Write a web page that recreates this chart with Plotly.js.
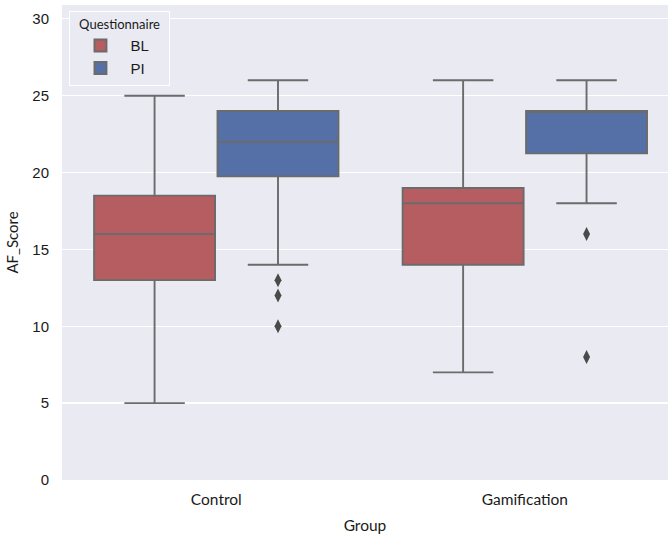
<!DOCTYPE html>
<html><head><meta charset="utf-8">
<script src="https://cdn.plot.ly/plotly-3.0.1.min.js"></script>
<style>html,body{margin:0;padding:0;background:#fff}</style>
</head><body>
<div id="chart" style="width:668px;height:538px"></div>
<script>
const categories = ["Control", "Gamification"];
const hues = ["BL", "PI"];
const blQ1 = [13, 14];
const blMedian = [16, 18];
const blQ3 = [18.5, 19];
const blLower = [5, 7];
const blUpper = [25, 26];
const blOutliers = [[], []];
const piQ1 = [19.75, 21.25];
const piMedian = [22, 24];
const piQ3 = [24, 24];
const piLower = [14, 18];
const piUpper = [26, 26];
const piOutliers = [[13, 12, 10], [16, 8]];
const yTicks = [0, 5, 10, 15, 20, 25, 30];

const colors = {BL: "#b55d60", PI: "#5470a6"};
const lineColor = "#6b6b6b";
const groupWidth = 0.8;
const boxW = groupWidth / hues.length * 0.98;
const offsets = hues.map((h, i) => -groupWidth / 2 + groupWidth / hues.length * (i + 0.5));

const stats = {
  BL: {q1: blQ1, median: blMedian, q3: blQ3, lo: blLower, hi: blUpper, out: blOutliers},
  PI: {q1: piQ1, median: piMedian, q3: piQ3, lo: piLower, hi: piUpper, out: piOutliers}
};

const traces = [];
hues.forEach((h, hi) => {
  const s = stats[h];
  const xs = categories.map((c, ci) => ci + offsets[hi]);
  traces.push({
    type: "box", name: h, x: xs,
    q1: s.q1, median: s.median, q3: s.q3, lowerfence: s.lo, upperfence: s.hi,
    width: boxW, whiskerwidth: 0.5, boxpoints: false,
    fillcolor: colors[h], line: {color: lineColor, width: 1.9},
    hoverinfo: "skip"
  });
  const ox = [], oy = [];
  s.out.forEach((arr, ci) => arr.forEach(v => { ox.push(ci + offsets[hi]); oy.push(v); }));
  if (ox.length) traces.push({
    type: "scatter", mode: "markers", x: ox, y: oy, showlegend: false,
    marker: {symbol: "diamond-tall", size: 10, color: "#4a4a4a"},
    hoverinfo: "skip"
  });
});

const layout = {
  width: 668, height: 538,
  margin: {l: 62, r: 0, t: 5, b: 58},
  paper_bgcolor: "#ffffff", plot_bgcolor: "#eaeaf2",
  boxmode: "overlay",
  showlegend: true,
  font: {family: "Liberation Sans, Arial, sans-serif", size: 14, color: "#1a1a1a"},
  xaxis: {
    range: [-0.5, 1.464], tickvals: categories.map((c, i) => i), ticktext: categories,
    showgrid: false, zeroline: false, showline: false, ticks: "", ticklabelstandoff: 8,
    tickfont: {family: "Lato, sans-serif", size: 15.5, color: "#1a1a1a"},
    title: {text: "Group", font: {family: "Lato, sans-serif", size: 15.5, color: "#1a1a1a"}, standoff: 13}
  },
  yaxis: {
    range: [0, 30.9], tickvals: yTicks, showgrid: true, gridcolor: "#ffffff", gridwidth: 1.3,
    zeroline: false, showline: false, ticks: "", ticklabelstandoff: 12,
    tickfont: {family: "Liberation Sans, Arial, sans-serif", size: 15, color: "#1a1a1a"},
    title: {text: "AF_Score", font: {family: "Lato, sans-serif", size: 15, color: "#1a1a1a"}, standoff: 10}
  },
  legend: {
    x: 0.012, y: 0.987, xanchor: "left", yanchor: "top",
    bgcolor: "#eaeaf2", bordercolor: "#ffffff", borderwidth: 1.2,
    tracegroupgap: 0, itemwidth: 50,
    title: {text: "  Questionnaire  ", font: {family: "Lato, sans-serif", size: 13}, side: "top"},
    font: {family: "Liberation Sans, Arial, sans-serif", size: 15}
  }
};
Plotly.newPlot("chart", traces, layout, {staticPlot: true, displayModeBar: false});
</script>
</body></html>
